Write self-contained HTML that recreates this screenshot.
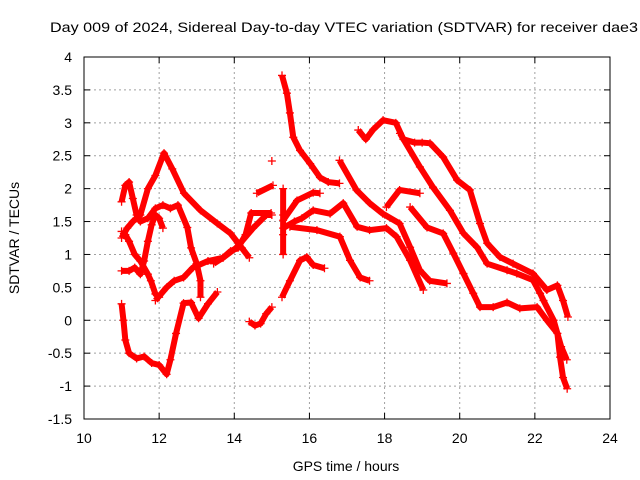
<!DOCTYPE html>
<html><head><meta charset="utf-8"><style>
body{margin:0;background:#fff}
svg{display:block;font-family:"Liberation Sans",sans-serif}
</style></head><body>
<svg id="chart" width="640" height="480" viewBox="0 0 640 480" xmlns="http://www.w3.org/2000/svg">
<text x="344" y="32" font-size="14" text-anchor="middle" textLength="588" lengthAdjust="spacingAndGlyphs">Day 009 of 2024, Sidereal Day-to-day VTEC variation (SDTVAR) for receiver dae3</text>
<text x="346" y="471" font-size="14" text-anchor="middle">GPS time / hours</text>
<text x="0" y="0" font-size="14" text-anchor="middle" transform="translate(19,238) rotate(-90)">SDTVAR / TECUs</text>
<g id="grid"></g>
<g id="marks"></g>
<rect x="84" y="57" width="526" height="362" fill="none" stroke="#000" stroke-width="1"/>
<g id="ticks"></g>
</svg>
<script>
const xTicks = [10,12,14,16,18,20,22,24];
const yTicks = [-1.5,-1,-0.5,0,0.5,1,1.5,2,2.5,3,3.5,4];
const yTickLabels = ["-1.5","-1","-0.5","0","0.5","1","1.5","2","2.5","3","3.5","4"];
const trackA = [[11.0,0.25],[11.05,0.0],[11.1,-0.3],[11.2,-0.5],[11.4,-0.58],[11.6,-0.55],[11.8,-0.65],[12.0,-0.68],[12.2,-0.82],[12.3,-0.6],[12.45,-0.2],[12.65,0.26],[12.85,0.27],[13.05,0.03],[13.3,0.25],[13.55,0.43]];
const trackB = [[11.9,0.3],[12.2,0.5],[12.4,0.6],[12.65,0.65],[12.9,0.8],[13.3,0.9],[13.7,0.95],[14.05,1.1],[14.5,1.4],[14.85,1.6],[15.0,1.6]];
const trackC = [[11.0,1.25],[11.15,1.4],[11.3,1.5],[11.5,1.6],[11.7,2.0],[11.9,2.2],[12.13,2.54],[12.35,2.3],[12.66,1.93],[13.1,1.67],[13.55,1.47],[13.9,1.32],[14.2,1.1],[14.4,0.95]];
const trackD = [[11.0,1.8],[11.1,2.05],[11.2,2.1],[11.3,1.85],[11.4,1.6],[11.5,1.5],[11.7,1.55],[11.9,1.7],[12.1,1.75],[12.3,1.7],[12.5,1.75],[12.75,1.41],[12.85,1.1],[13.0,0.86],[13.1,0.6],[13.1,0.35]];
const trackE = [[11.0,1.35],[11.1,1.3],[11.2,1.2],[11.35,1.0],[11.5,0.9],[11.7,0.7],[11.78,0.6],[11.9,0.4],[12.0,0.35]];
const trackF = [[11.0,0.75],[11.2,0.75],[11.35,0.8],[11.5,0.7],[11.6,0.9],[11.7,1.2],[11.8,1.45],[11.9,1.6],[12.0,1.55],[12.1,1.4]];
const trackG = [[13.45,0.86],[13.7,0.95],[13.9,1.05],[14.1,1.1],[14.3,1.3],[14.45,1.63],[14.98,1.63]];
const trackH = [[15.27,3.72],[15.4,3.45],[15.48,3.15],[15.57,2.78],[15.75,2.58],[16.02,2.38],[16.28,2.17],[16.5,2.1],[16.8,2.08]];
const trackI = [[16.8,2.43],[17.25,1.98],[17.6,1.78],[17.95,1.62],[18.4,1.47],[18.68,1.11],[18.94,0.76],[19.2,0.6],[19.66,0.56]];
const trackJ = [[15.3,1.4],[15.6,1.5],[15.8,1.55],[16.1,1.67],[16.55,1.62],[16.9,1.78],[17.27,1.42],[17.6,1.37],[18.05,1.4],[18.32,1.27],[18.68,0.91],[19.03,0.46]];
const trackK = [[15.48,1.42],[16.2,1.37],[16.81,1.27],[17.08,0.91],[17.35,0.65],[17.6,0.6]];
const trackL = [[17.3,2.89],[17.5,2.75],[17.7,2.9],[17.96,3.04],[18.3,3.0],[18.5,2.75],[18.8,2.7],[19.0,2.7],[19.21,2.69],[19.56,2.48],[19.93,2.13],[20.27,1.98],[20.54,1.47],[20.73,1.17],[21.07,0.96],[21.42,0.86],[21.95,0.71],[22.32,0.46],[22.6,0.53],[22.75,0.3],[22.88,0.05]];
const trackM = [[18.41,2.84],[18.94,2.33],[19.29,2.02],[19.74,1.67],[20.1,1.32],[20.46,1.11],[20.73,0.86],[21.26,0.76],[21.52,0.71],[21.95,0.61],[22.14,0.41],[22.23,0.3],[22.5,0.0],[22.7,-0.4],[22.85,-0.6]];
const trackN = [[18.05,1.72],[18.4,1.98],[18.94,1.93]];
const trackO = [[18.68,1.72],[19.13,1.41],[19.56,1.32],[19.83,1.02],[20.1,0.71],[20.36,0.41],[20.54,0.2],[20.89,0.2],[21.26,0.27],[21.6,0.18],[22.06,0.2],[22.32,0.0],[22.6,-0.2],[22.67,-0.56],[22.75,-0.87],[22.86,-1.04]];
const trackP = [[14.4,-0.02],[14.55,-0.08],[14.7,-0.05],[14.85,0.1],[15.0,0.2]];
const trackQ = [[15.27,0.35],[15.48,0.6],[15.75,0.91],[15.93,0.96],[16.1,0.84],[16.4,0.79]];
const trackR = [[14.6,1.93],[15.03,2.05]];
const trackS = [[15.0,2.42]];
const trackT = [[15.3,1.52],[15.67,1.82],[16.1,1.94],[16.28,1.93]];
const trackU = [[15.3,1.0],[15.3,1.3],[15.3,1.6],[15.3,2.0]];
const tracks = [trackA,trackB,trackC,trackD,trackE,trackF,trackG,trackH,trackI,trackJ,trackK,trackL,trackM,trackN,trackO,trackP,trackQ,trackR,trackS,trackT,trackU];

const L=84,R=610,T=57,B=419, xMin=10,xMax=24,yMin=-1.5,yMax=4;
const X=v=>L+(v-xMin)/(xMax-xMin)*(R-L);
const Y=v=>B-(v-yMin)/(yMax-yMin)*(B-T);
const NS='http://www.w3.org/2000/svg';
const grid=document.getElementById('grid'), ticks=document.getElementById('ticks'), marks=document.getElementById('marks');
function mk(tag,parent){const e=document.createElementNS(NS,tag);parent.appendChild(e);return e;}

xTicks.forEach((t,i)=>{
  const x=X(t);
  if(i>0&&i<xTicks.length-1){const g=mk('line',grid);
    
    
    g.setAttribute('x1',x);g.setAttribute('x2',x);g.setAttribute('y1',T);g.setAttribute('y2',B);
    g.setAttribute('stroke','#a0a0a0');g.setAttribute('stroke-dasharray','2,3');}
  [[B,B-6],[T,T+6]].forEach(p=>{const k=mk('line',ticks);
    
    
    k.setAttribute('x1',x);k.setAttribute('x2',x);k.setAttribute('y1',p[0]);k.setAttribute('y2',p[1]);k.setAttribute('stroke','#000');});
  const tx=mk('text',ticks);
  
  
  tx.setAttribute('x',x);tx.setAttribute('y',B+24);tx.setAttribute('font-size','14');tx.setAttribute('text-anchor','middle');
  tx.textContent=String(t);
});
yTicks.forEach((t,i)=>{
  const y=Y(t);
  if(i>0&&i<yTicks.length-1){const g=mk('line',grid);
    
    
    g.setAttribute('x1',L);g.setAttribute('x2',R);g.setAttribute('y1',y);g.setAttribute('y2',y);
    g.setAttribute('stroke','#a0a0a0');g.setAttribute('stroke-dasharray','2,3');}
  [[L,L+6],[R,R-6]].forEach(p=>{const k=mk('line',ticks);
    
    
    k.setAttribute('x1',p[0]);k.setAttribute('x2',p[1]);k.setAttribute('y1',y);k.setAttribute('y2',y);k.setAttribute('stroke','#000');});
  const tx=mk('text',ticks);
  
  
  tx.setAttribute('x',L-12);tx.setAttribute('y',y+5);tx.setAttribute('font-size','14');tx.setAttribute('text-anchor','end');
  tx.textContent=yTickLabels[i];
});
tracks.forEach((tr,ti)=>{
  const g=mk('g',marks);
  
  
  if(tr.length>1){const pl=mk('polyline',g);
    
    
    pl.setAttribute('points',tr.map(p=>X(p[0])+','+Y(p[1])).join(' '));
    pl.setAttribute('fill','none');pl.setAttribute('stroke','#f00');pl.setAttribute('stroke-width','6');pl.setAttribute('stroke-linejoin','round');}
  tr.forEach(p=>{const m=mk('path',g);
    
    
    const x=X(p[0]),y=Y(p[1]);
    m.setAttribute('d',`M${x-4},${y}H${x+4}M${x},${y-4}V${y+4}`);
    m.setAttribute('stroke','#f00');m.setAttribute('stroke-width','1.3');});
});
</script>
</body></html>
